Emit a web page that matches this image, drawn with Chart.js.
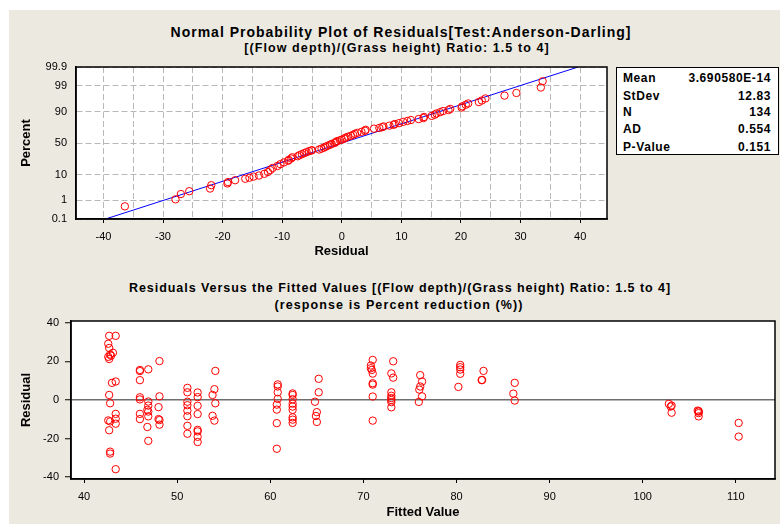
<!DOCTYPE html>
<html>
<head>
<meta charset="utf-8">
<script src="https://cdn.jsdelivr.net/npm/chart.js@4.4.0/dist/chart.umd.min.js"></script>
<style>
  body { margin: 0; width: 780px; height: 524px; background: #fff; overflow: hidden; position: relative;
         font-family: 'Liberation Sans', Arial, sans-serif; color: #000; }
  #panel { position: absolute; left: 9px; top: 10px; right: 0; bottom: 0; background: #ECE9E0; }
  canvas { position: absolute; left: 0; }
  .ttl { position: absolute; transform: translateX(-50%); white-space: nowrap; font-weight: bold; line-height: 16px; }
  #stats { position: absolute; left: 616px; top: 67px; width: 161px; height: 86px; background: #fff;
           border: 1.5px solid #000; font-weight: bold; font-size: 12px; letter-spacing: 0.6px; }
  #stats div { position: absolute; left: 6px; right: 7px; height: 17px; line-height: 17px; }
  #stats span { float: right; }
</style>
</head>
<body>
<div id="panel"></div>
<div class="ttl" style="left:401px; top:24px; font-size:14px; letter-spacing:1px;">Normal Probability Plot of Residuals[Test:Anderson-Darling]</div>
<div class="ttl" style="left:397px; top:40px; font-size:12.5px; letter-spacing:1.1px;">[(Flow depth)/(Grass height) Ratio: 1.5 to 4]</div>
<canvas id="probPlot" width="612" height="262" style="top:0"></canvas>
<div id="stats"></div>
<div class="ttl" style="left:400px; top:280px; font-size:12.5px; letter-spacing:0.95px;">Residuals Versus the Fitted Values [(Flow depth)/(Grass height) Ratio: 1.5 to 4]</div>
<div class="ttl" style="left:399px; top:297px; font-size:12.5px; letter-spacing:1.1px;">(response is Percent reduction (%))</div>
<canvas id="fitPlot" width="780" height="259" style="top:265px"></canvas>
<script>
// probability plot: residual vs cumulative percent
const probResid = [-36.4, -27.9, -27.0, -25.6, -22.1, -21.9, -19.2, -19.1, -17.9, -16.2, -15.5, -14.8, -13.9, -13.0,
  -12.4, -12.0, -11.6, -10.8, -10.3, -9.7, -9.0, -8.9, -8.5, -8.3, -7.4, -7.1, -6.7, -6.3, -5.9, -5.5, -5.1, -5.0,
  -3.8, -3.4, -3.0, -2.7, -2.4, -2.0, -1.7, -1.2, -1.0, -0.8, -0.3, 0.0, 0.4, 0.6, 1.0, 1.5, 1.9, 2.2, 2.6, 3.3,
  3.9, 4.0, 5.4, 6.3, 6.8, 7.0, 8.0, 8.7, 8.9, 9.6, 10.3, 11.0, 11.6, 12.9, 13.7, 13.8, 15.1, 15.6, 15.9, 16.5,
  17.0, 17.9, 18.2, 20.1, 20.2, 20.8, 21.2, 23.0, 23.5, 24.1, 27.3, 29.3, 33.4, 33.7];
const probPct = [0.5, 1.1, 1.9, 2.5, 3.2, 4.3, 5.0, 5.6, 6.5, 7.3, 7.9, 8.6, 9.3, 10.5,
  11.9, 13.5, 15.5, 17.5, 19.5, 21.5, 23.5, 24.5, 26.5, 28.0, 29.5, 31.0, 32.5, 34.0, 35.5, 37.0, 38.0, 38.5,
  39.5, 41.0, 42.5, 44.0, 45.5, 47.0, 48.5, 50.0, 51.5, 53.0, 54.5, 55.5, 57.0, 58.5, 60.0, 61.5, 63.0, 64.5, 66.0, 67.5,
  69.0, 70.5, 72.0, 73.0, 74.0, 75.0, 76.0, 77.0, 78.0, 79.0, 80.5, 81.5, 82.5, 83.5, 84.5, 85.5, 86.5, 87.5, 88.5, 89.5,
  90.3, 91.0, 91.7, 92.5, 93.2, 94.0, 94.6, 95.2, 95.8, 96.5, 97.3, 97.9, 98.8, 99.4];

// fitted normal line (mean 0, StDev 12.83)
const fitLineResid = [-39.65, 39.65];
const fitLinePct = [0.1, 99.9];

const pctTicks = [0.1, 1, 10, 50, 90, 99, 99.9];
const residGrid = [-40, -35, -30, -25, -20, -15, -10, -5, 0, 5, 10, 15, 20, 25, 30, 35, 40];

const statLabels = ['Mean', 'StDev', 'N', 'AD', 'P-Value'];
const statValues = ['3.690580E-14', '12.83', '134', '0.554', '0.151'];

// residuals versus fitted values
const fittedVals = [
  42.7, 43.4, 42.6, 42.7, 43.1, 42.9, 42.8, 42.6, 42.7, 43.0, 43.4, 42.7, 42.8, 43.4, 43.4, 42.6, 42.8, 43.4, 42.7, 42.8, 42.8, 43.4,
  46.0, 46.0, 46.0, 46.0, 46.0, 46.0, 46.0,
  46.9, 46.9, 46.9, 46.8, 46.9, 46.9, 46.8, 46.9,
  48.1, 48.1, 48.0, 48.0, 48.1, 48.1,
  51.1, 51.1, 51.1, 51.1, 51.1, 51.1, 51.1, 51.1,
  52.2, 52.2, 52.2, 52.2, 52.2, 52.2, 52.2, 52.2,
  54.1, 54.0, 53.8, 54.1, 53.8, 54.0,
  60.8, 60.8, 60.8, 60.8, 60.7, 60.7, 60.7, 60.7,
  62.4, 62.4, 62.4, 62.4, 62.4, 62.4, 62.4, 62.4, 62.4,
  65.2, 65.2, 64.8, 65.0, 64.9, 65.0,
  71.0, 70.8, 70.8, 70.9, 71.0, 71.0, 71.0, 71.0, 71.0,
  73.2, 73.0, 73.2, 73.0, 73.0, 73.0, 73.0, 73.0, 73.0,
  76.1, 76.3, 76.1, 76.0, 76.3, 75.95,
  80.4, 80.4, 80.4, 80.4, 80.2,
  82.9, 82.7, 82.75,
  86.25, 86.1, 86.25,
  102.8, 103.1, 103.0, 103.1,
  105.9, 106.0, 106.0, 106.0, 106.0,
  110.3, 110.3];
const residVals = [
  33.3, 33.3, 29.2, 27.0, 24.5, 23.0, 23.6, 22.4, 21.3, 8.9, 9.6, 2.6, -1.7, -7.2, -9.7, -10.6, -11.1, -12.3, -15.7, -26.8, -27.8, -35.9,
  15.6, 15.0, 10.3, 1.4, 0.3, -7.2, -9.9,
  15.9, -0.8, -2.9, -5.1, -6.0, -8.5, -14.0, -21.2,
  20.2, 1.9, -3.7, -9.9, -10.4, -12.8,
  6.3, 4.0, -0.9, -2.7, -5.5, -8.4, -13.4, -17.5,
  3.9, 1.5, -3.0, -7.3, -15.5, -16.3, -19.1, -21.8,
  15.1, 5.6, 2.6, -1.7, -8.2, -10.7,
  8.1, 7.0, 4.0, 0.6, -2.4, -5.0, -12.0, -25.3,
  3.4, 2.6, 0.4, -1.9, -3.4, -5.1, -9.0, -10.2, -11.9,
  11.0, 4.0, -0.9, -6.3, -8.3, -11.4,
  20.8, 17.9, 16.5, 15.6, 13.7, 8.7, 8.0, 1.8, -10.7,
  20.1, 13.8, 11.6, 4.0, 2.2, 1.0, 0.0, -1.1, -3.8,
  12.9, 9.6, 7.0, 5.4, 1.9, -1.0,
  18.2, 17.0, 15.8, 13.6, 6.8,
  15.1, 10.3, 10.4,
  8.9, 3.3, -0.3,
  -2.0, -2.9, -3.4, -6.6,
  -5.5, -5.8, -6.0, -6.8, -8.5,
  -11.9, -19.0];
const fittedTicks = [40, 50, 60, 70, 80, 90, 100, 110];
const residTicks = [-40, -20, 0, 20, 40];

Chart.defaults.font.family = "'Liberation Sans', Arial, sans-serif";
Chart.defaults.color = '#000';

// inverse standard normal CDF (Acklam's approximation)
function probit(p) {
  const a = [-39.69683028665376, 220.9460984245205, -275.9285104469687, 138.3577518672690, -30.66479806614716, 2.506628277459239];
  const b = [-54.47609879822406, 161.5858368580409, -155.6989798598866, 66.80131188771972, -13.28068155288572];
  const c = [-0.007784894002430293, -0.3223964580411365, -2.400758277161838, -2.549732539343734, 4.374664141464968, 2.938163982698783];
  const d = [0.007784695709041462, 0.3224671290700398, 2.445134137142996, 3.754408661907416];
  const tail = q => (((((c[0] * q + c[1]) * q + c[2]) * q + c[3]) * q + c[4]) * q + c[5]) /
                    ((((d[0] * q + d[1]) * q + d[2]) * q + d[3]) * q + 1);
  if (p < 0.02425) return tail(Math.sqrt(-2 * Math.log(p)));
  if (p > 1 - 0.02425) return -tail(Math.sqrt(-2 * Math.log(1 - p)));
  const q = p - 0.5, r = q * q;
  return (((((a[0] * r + a[1]) * r + a[2]) * r + a[3]) * r + a[4]) * r + a[5]) * q /
         (((((b[0] * r + b[1]) * r + b[2]) * r + b[3]) * r + b[4]) * r + 1);
}

// normal probability axis: percent values placed by their z-score
class ProbabilityScale extends Chart.Scale {
  static id = 'probability';
  static defaults = {};
  determineDataLimits() {
    this.min = this.options.min;
    this.max = this.options.max;
  }
  buildTicks() {
    return pctTicks.map(v => ({ value: v }));
  }
  configure() {
    super.configure();
    this._zStart = probit(this.min / 100);
    this._zRange = probit(this.max / 100) - this._zStart;
  }
  getLabelForValue(v) {
    return String(v);
  }
  getPixelForValue(v) {
    return this.getPixelForDecimal((probit(v / 100) - this._zStart) / this._zRange);
  }
}
Chart.register(ProbabilityScale);

// white plot area with a closed black frame
const plotFrame = {
  id: 'plotFrame',
  beforeDraw(chart) {
    const { ctx, chartArea: a } = chart;
    ctx.save();
    ctx.fillStyle = '#fff';
    ctx.fillRect(a.left, a.top, a.right - a.left, a.bottom - a.top);
    ctx.restore();
  },
  afterDraw(chart) {
    const { ctx, chartArea: a } = chart;
    ctx.save();
    ctx.strokeStyle = '#000';
    ctx.lineWidth = 1.5;
    ctx.strokeRect(a.left, a.top, a.right - a.left, a.bottom - a.top);
    ctx.restore();
  }
};

const tickFont = { size: 11 };
const axisTitleFont = { size: 13, weight: 'bold' };
const marker = { pointStyle: 'circle', pointRadius: 3.7, borderColor: '#ff0000', backgroundColor: 'rgba(0,0,0,0)', borderWidth: 1 };

new Chart(document.getElementById('probPlot'), {
  type: 'scatter',
  data: {
    datasets: [
      Object.assign({ data: probResid.map((r, i) => ({ x: r, y: probPct[i] })) }, marker),
      {
        data: fitLineResid.map((r, i) => ({ x: r, y: fitLinePct[i] })),
        showLine: true, borderColor: '#0000ff', borderWidth: 1, pointRadius: 0, fill: false
      }
    ]
  },
  options: {
    responsive: false,
    animation: false,
    events: [],
    layout: { padding: { top: 67, right: 5, left: 0, bottom: 0 } },
    plugins: { legend: { display: false }, tooltip: { enabled: false } },
    scales: {
      x: {
        type: 'linear', min: -44.6, max: 44.5,
        afterBuildTicks: s => { s.ticks = residGrid.map(v => ({ value: v })); },
        afterFit: s => { s.height = 43; },
        grid: { color: '#b8b8b8', tickLength: 4, tickWidth: 1, tickBorderDash: [],
                tickColor: c => (c.tick && c.tick.value % 10 === 0) ? '#000' : 'rgba(0,0,0,0)' },
        border: { color: '#000', width: 1.5, dash: [6, 3] },
        ticks: { autoSkip: false, maxRotation: 0, padding: 7, font: tickFont,
                 callback: v => (v % 10 === 0 ? v : '') },
        title: { display: true, text: 'Residual', font: axisTitleFont, padding: { top: 0, bottom: 3 } }
      },
      y: {
        type: 'probability', min: 0.1, max: 99.9,
        afterFit: s => { s.width = 76; },
        grid: { color: '#b8b8b8', drawTicks: false },
        border: { color: '#000', width: 1.5, dash: [6, 3] },
        ticks: { padding: 9, font: tickFont },
        title: { display: true, text: 'Percent', font: axisTitleFont, padding: { top: 19, bottom: 0 } }
      }
    }
  },
  plugins: [plotFrame]
});

const stats = document.getElementById('stats');
const rowTops = [2, 19.5, 36, 53, 71];
statLabels.forEach((lab, i) => {
  const row = document.createElement('div');
  row.style.top = rowTops[i] + 'px';
  row.innerHTML = lab + '<span>' + statValues[i] + '</span>';
  stats.appendChild(row);
});

new Chart(document.getElementById('fitPlot'), {
  type: 'scatter',
  data: {
    datasets: [Object.assign({ data: fittedVals.map((f, i) => ({ x: f, y: residVals[i] })) }, marker)]
  },
  options: {
    responsive: false,
    animation: false,
    events: [],
    layout: { padding: { top: 56, right: 5, left: 0, bottom: 0 } },
    plugins: { legend: { display: false }, tooltip: { enabled: false } },
    scales: {
      x: {
        type: 'linear', min: 38.6, max: 114.2,
        afterBuildTicks: s => { s.ticks = fittedTicks.map(v => ({ value: v })); },
        afterFit: s => { s.height = 45; },
        grid: { drawOnChartArea: false, tickLength: 4, tickColor: '#000', tickWidth: 1 },
        border: { color: '#000', width: 1.5 },
        ticks: { autoSkip: false, maxRotation: 0, padding: 7, font: tickFont },
        title: { display: true, text: 'Fitted Value', font: axisTitleFont, padding: { top: 0, bottom: 4 } }
      },
      y: {
        type: 'linear', min: -41, max: 41,
        afterBuildTicks: s => { s.ticks = residTicks.map(v => ({ value: v })); },
        afterFit: s => { s.width = 71; },
        grid: { color: c => (c.tick && c.tick.value === 0) ? '#6e6e6e' : 'rgba(0,0,0,0)',
                lineWidth: 1.5, tickLength: 6, tickColor: '#000', tickWidth: 1 },
        border: { color: '#000', width: 1.5 },
        ticks: { padding: 6, font: tickFont },
        title: { display: true, text: 'Residual', font: axisTitleFont, padding: { top: 19, bottom: 0 } }
      }
    }
  },
  plugins: [plotFrame]
});
</script>
</body>
</html>
